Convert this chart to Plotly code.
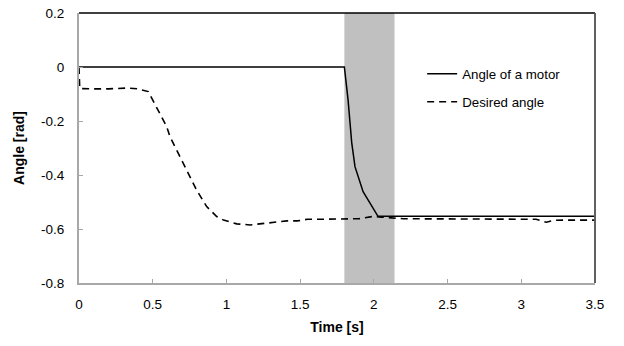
import plotly.graph_objects as go

# ---- data ----
time_motor = [0, 1.80, 1.825, 1.85, 1.872, 1.906, 1.927, 2.028, 3.5]
angle_motor = [0, 0, -0.122, -0.281, -0.369, -0.43, -0.462, -0.553, -0.553]

time_desired = [0, 0.005, 0.1, 0.2, 0.33, 0.40, 0.47, 0.50, 0.55, 0.595, 0.617, 0.663,
                0.708, 0.753, 0.798, 0.866, 0.934, 0.98, 1.024, 1.07, 1.16, 1.23, 1.32,
                1.41, 1.48, 1.55, 1.63, 1.72, 1.80, 1.9, 2.0, 2.05, 2.2, 2.5, 2.8, 3.1,
                3.17, 3.22, 3.3, 3.5]
angle_desired = [0, -0.08, -0.081, -0.081, -0.078, -0.081, -0.091, -0.122, -0.171, -0.221,
                 -0.258, -0.307, -0.357, -0.406, -0.456, -0.517, -0.554, -0.567, -0.573,
                 -0.581, -0.585, -0.581, -0.577, -0.57, -0.57, -0.564, -0.564, -0.564,
                 -0.564, -0.562, -0.553, -0.556, -0.562, -0.563, -0.563, -0.564, -0.575,
                 -0.568, -0.567, -0.567]

band_start, band_end = 1.80, 2.14

x_tickvals = [0, 0.5, 1, 1.5, 2, 2.5, 3, 3.5]
x_ticktext = ["0", "0.5", "1", "1.5", "2", "2.5", "3", "3.5"]
y_tickvals = [0.2, 0, -0.2, -0.4, -0.6, -0.8]
y_ticktext = ["0.2", "0", "-0.2", "-0.4", "-0.6", "-0.8"]

FONT = "Liberation Sans, Arial, sans-serif"

fig = go.Figure()
fig.add_trace(go.Scatter(x=time_motor, y=angle_motor, mode="lines",
                         name="Angle of a motor",
                         line=dict(color="black", width=1.5), legend="legend"))
fig.add_trace(go.Scatter(x=time_desired, y=angle_desired, mode="lines",
                         name="Desired angle",
                         line=dict(color="black", width=1.6, dash="7px,5px"),
                         legend="legend2"))

fig.add_shape(type="rect", xref="x", yref="paper", x0=band_start, x1=band_end,
              y0=0, y1=1, fillcolor="#c0c0c0", line=dict(width=0), layer="below")
# frame top and right
fig.add_shape(type="line", xref="paper", yref="paper", x0=0, x1=1, y0=1, y1=1,
              line=dict(color="black", width=1.5))
fig.add_shape(type="line", xref="paper", yref="paper", x0=1, x1=1, y0=0, y1=1,
              line=dict(color="#606060", width=2))

fig.update_layout(
    width=624, height=346,
    margin=dict(l=79, r=29, t=13, b=63, autoexpand=False),
    paper_bgcolor="white", plot_bgcolor="white",
    font=dict(family=FONT, size=13.5, color="black"),
    legend=dict(x=0.665, y=0.774, xanchor="left", yanchor="middle",
                font=dict(size=13.3), bgcolor="rgba(0,0,0,0)"),
    legend2=dict(x=0.665, y=0.670, xanchor="left", yanchor="middle",
                 font=dict(size=13.3), bgcolor="rgba(0,0,0,0)"),
    xaxis=dict(range=[0, 3.5], tickvals=x_tickvals, ticktext=x_ticktext,
               showgrid=False, zeroline=False, showline=True, linecolor="#a8a8a8",
               linewidth=2, ticks="inside", ticklen=4, tickcolor="#a8a8a8",
               ticklabelstandoff=8, automargin=False,
               title=dict(text="<b>Time [s]</b>", font=dict(size=14), standoff=11)),
    yaxis=dict(range=[-0.8, 0.2], tickvals=y_tickvals, ticktext=y_ticktext,
               showgrid=False, zeroline=False, showline=True, linecolor="#a8a8a8",
               linewidth=2, ticks="inside", ticklen=4, tickcolor="#a8a8a8",
               ticklabelstandoff=10, automargin=False,
               title=dict(text="<b>Angle [rad]</b>", font=dict(size=14), standoff=13)),
    showlegend=True,
)

fig.write_html("out.html", config={"displayModeBar": False},
               post_script="document.body.style.margin='0';document.body.style.overflow='hidden';")
